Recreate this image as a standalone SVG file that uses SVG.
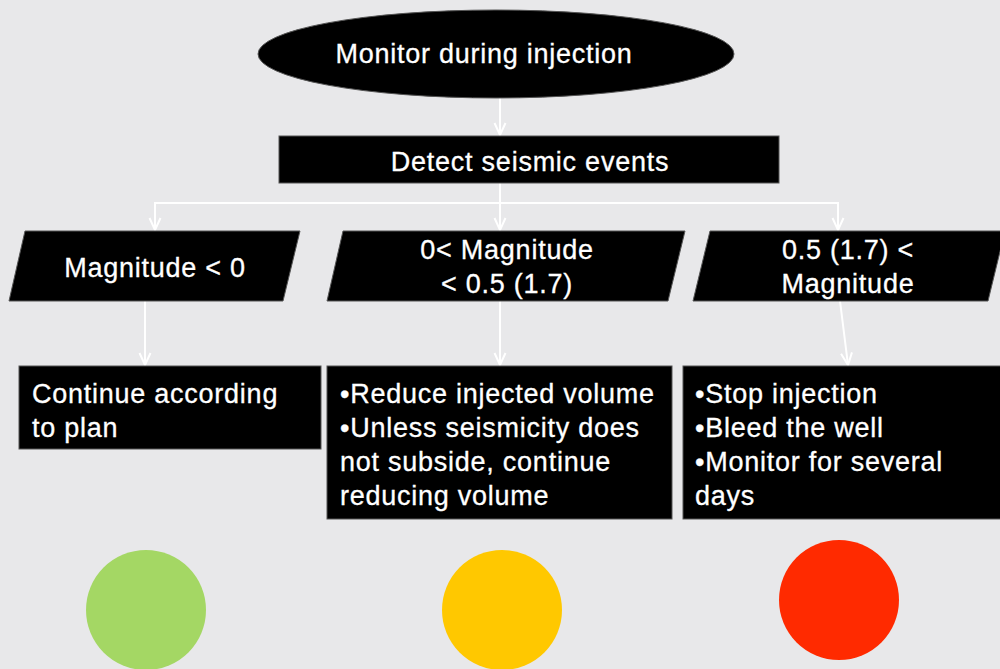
<svg xmlns="http://www.w3.org/2000/svg" width="1000" height="669" viewBox="0 0 1000 669">
<defs>
<marker id="ah" markerWidth="16" markerHeight="16" refX="14" refY="8" orient="auto-start-reverse" markerUnits="userSpaceOnUse" viewBox="0 0 16 16">
<path d="M2,2.5 L14,8 L2,13.5" fill="none" stroke="#ffffff" stroke-width="2"/>
</marker>
</defs>
<style>
.bg{fill:#e8e8ea}
.shape{fill:#000000;stroke:#555555;stroke-width:1}
.t{font-family:"Liberation Sans",Arial,sans-serif;font-size:27px;letter-spacing:0.75px;fill:#ffffff;stroke:#ffffff;stroke-width:0.3}
.c{text-anchor:middle}
.conn{stroke:#ffffff;stroke-width:2;fill:none}
</style>
<rect class="bg" x="0" y="0" width="1000" height="669"/>
<g id="connectors">
<line class="conn" x1="500" y1="98" x2="500" y2="135" marker-end="url(#ah)"/>
<line class="conn" x1="500" y1="183" x2="500" y2="203"/>
<polyline class="conn" points="155,230 155,203 838,203 838,230" marker-start="url(#ah)" marker-end="url(#ah)"/>
<line class="conn" x1="500" y1="203" x2="500" y2="230" marker-end="url(#ah)"/>
<line class="conn" x1="145" y1="301" x2="145" y2="365" marker-end="url(#ah)"/>
<line class="conn" x1="500" y1="301" x2="500" y2="365" marker-end="url(#ah)"/>
<line class="conn" x1="840" y1="301" x2="848" y2="365" marker-end="url(#ah)"/>
</g>
<g id="start">
<ellipse class="shape" cx="496" cy="54" rx="238" ry="44"/>
<text class="t c" x="484" y="63">Monitor during injection</text>
</g>
<g id="detect">
<rect class="shape" x="279" y="136" width="500" height="47"/>
<text class="t c" x="530" y="171">Detect seismic events</text>
</g>
<g id="mag-low">
<polygon class="shape" points="25,231 300,231 283,301 9,301"/>
<text class="t c" x="155" y="277">Magnitude &lt; 0</text>
</g>
<g id="mag-mid">
<polygon class="shape" points="343,231 685,231 668,301 327,301"/>
<text class="t c" x="507" y="259">0&lt; Magnitude</text>
<text class="t c" x="507" y="293">&lt; 0.5 (1.7)</text>
</g>
<g id="mag-high">
<polygon class="shape" points="710,231 1005,231 988,301 693,301"/>
<text class="t c" x="848" y="259">0.5 (1.7) &lt;</text>
<text class="t c" x="848" y="293">Magnitude</text>
</g>
<g id="act-green">
<rect class="shape" x="19" y="366" width="302" height="83"/>
<text class="t" x="32" y="403">Continue according</text>
<text class="t" x="32" y="437">to plan</text>
</g>
<g id="act-yellow">
<rect class="shape" x="327" y="366" width="345" height="153"/>
<text class="t" x="340" y="403">•Reduce injected volume</text>
<text class="t" x="340" y="437">•Unless seismicity does</text>
<text class="t" x="340" y="471">not subside, continue</text>
<text class="t" x="340" y="505">reducing volume</text>
</g>
<g id="act-red">
<rect class="shape" x="683" y="366" width="320" height="153"/>
<text class="t" x="695" y="403">•Stop injection</text>
<text class="t" x="695" y="437">•Bleed the well</text>
<text class="t" x="695" y="471">•Monitor for several</text>
<text class="t" x="695" y="505">days</text>
</g>
<g id="light-green"><circle cx="146" cy="610" r="60" fill="#a4d764"/></g>
<g id="light-yellow"><circle cx="502" cy="610" r="60" fill="#ffc800"/></g>
<g id="light-red"><circle cx="839" cy="600" r="60" fill="#ff2a00"/></g>
</svg>
